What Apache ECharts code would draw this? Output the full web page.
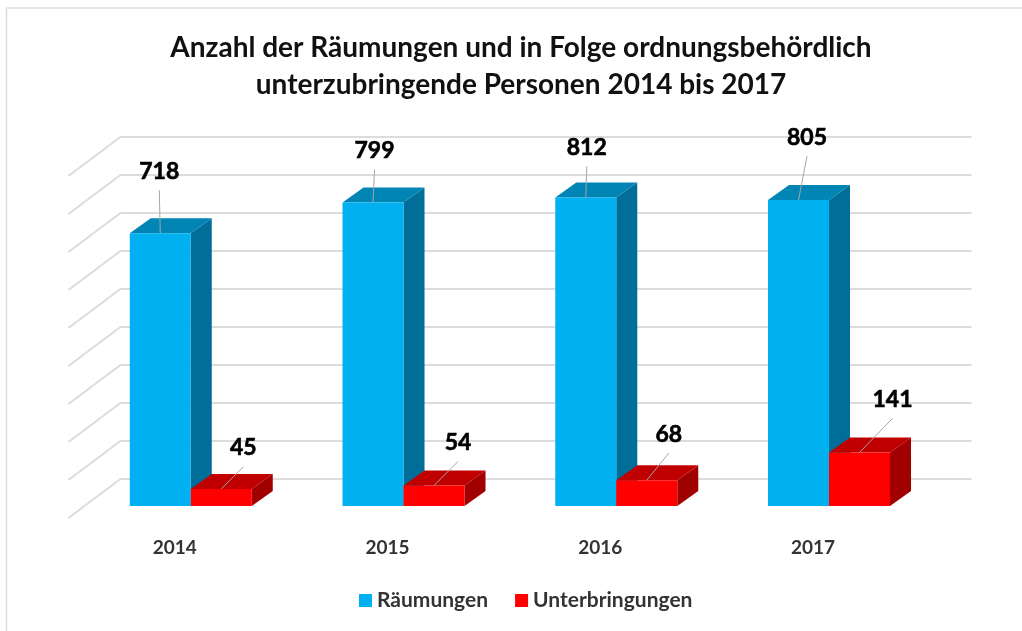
<!DOCTYPE html>
<html>
<head>
<meta charset="utf-8">
<script src="https://cdn.jsdelivr.net/npm/echarts@6/dist/echarts.min.js"></script>
<style>
  html, body { margin: 0; padding: 0; background: #fff; }
  #chart { width: 1022px; height: 631px; }
</style>
</head>
<body>
<div id="chart"></div>
<script>
const titleText = 'Anzahl der Räumungen und in Folge ordnungsbehördlich\nunterzubringende Personen 2014 bis 2017';
const years = ['2014', '2015', '2016', '2017'];
const raeumungen = [718, 799, 812, 805];
const unterbringungen = [45, 54, 68, 141];
const wallTicks = [0, 100, 200, 300, 400, 500, 600, 700, 800, 900];

// 3d look: the grid is the front edge of the floor, bars and back wall sit behind it
const BAR_W = 61;
const BAR_SHIFT = [16, -12];   // front of the bars
const BAR_DEPTH = [21, -15];
const WALL_DEPTH = [52, -39];

// label position relative to the middle of the bar's front top edge
const blueLabels = [[-1, -62], [1.5, -52], [1, -50], [8.5, -63]];
const redLabels = [[22, -41], [24, -43], [22, -46], [33, -53]];

function poly(points, color) {
  return { type: 'polygon', shape: { points }, style: { fill: color } };
}

function wallItem(params, api) {
  const p = api.coord([0, api.value(0)]);
  const left = p[0] - api.size([1, 0])[0] / 2;
  const right = left + api.size([1, 0])[0] * 4;
  const bx = left + WALL_DEPTH[0], by = p[1] + WALL_DEPTH[1];
  const lineStyle = { stroke: '#dcdcdc', lineWidth: 2, fill: null };
  return {
    type: 'group',
    children: [
      { type: 'polyline', shape: { points: [[left, p[1]], [bx, by], [right + WALL_DEPTH[0], by]] }, style: lineStyle }
    ]
  };
}

function barItem(side, colors, labelPos) {
  return function (params, api) {
    const top = api.coord([api.value(0), api.value(1)]);
    const base = api.coord([api.value(0), 0]);
    const x0 = top[0] + BAR_SHIFT[0] + (side < 0 ? -BAR_W : 0);
    const x1 = x0 + BAR_W;
    const y0 = top[1] + BAR_SHIFT[1];
    const y1 = base[1] + BAR_SHIFT[1];
    const dx = BAR_DEPTH[0], dy = BAR_DEPTH[1];
    const mid = (x0 + x1) / 2;
    const off = labelPos[params.dataIndex];
    const lx = mid + off[0], ly = y0 + off[1];
    return {
      type: 'group',
      children: [
        poly([[x1, y0], [x1 + dx, y0 + dy], [x1 + dx, y1 + dy], [x1, y1]], colors.side),
        poly([[x0, y0], [x0 + dx, y0 + dy], [x1 + dx, y0 + dy], [x1, y0]], colors.top),
        { type: 'rect', shape: { x: x0, y: y0, width: BAR_W, height: y1 - y0 }, style: { fill: colors.front } },
        { type: 'line', shape: { x1: mid, y1: y0, x2: lx, y2: ly + 19 }, style: { stroke: '#a6a6a6', lineWidth: 1 } },
        {
          type: 'text',
          style: {
            x: lx, y: ly, text: String(api.value(1)), align: 'center', verticalAlign: 'middle',
            font: 'bold 23px Lato, sans-serif', fill: '#000', stroke: '#000', lineWidth: 0.6
          }
        }
      ]
    };
  };
}

const blue = { front: '#00b0f0', top: '#0085b5', side: '#006e99' };
const red = { front: '#ff0000', top: '#c00000', side: '#a00000' };

const myChart = echarts.init(document.getElementById('chart'), null, { renderer: 'canvas' });
myChart.setOption({
  animation: false,
  backgroundColor: '#fff',
  title: {
    text: titleText,
    left: 516,
    top: 24,
    textAlign: 'center',
    textStyle: { fontFamily: 'Lato', fontWeight: 'bold', fontSize: 28, lineHeight: 37, color: '#111' }
  },
  legend: {
    data: ['Räumungen', 'Unterbringungen'],
    left: 354,
    top: 585,
    icon: 'rect',
    itemWidth: 13,
    itemHeight: 13,
    itemGap: 27,
    textStyle: { fontFamily: 'Lato', fontWeight: 'bold', fontSize: 21, color: '#333' }
  },
  grid: { left: 68.4, right: 102.6, top: 176, bottom: 113 },
  xAxis: {
    type: 'category',
    data: years,
    axisLine: { show: false },
    axisTick: { show: false },
    axisLabel: { margin: 20, fontFamily: 'Lato', fontWeight: 'bold', fontSize: 19, color: '#333' }
  },
  yAxis: {
    type: 'value',
    min: 0,
    max: 900,
    interval: 100,
    axisLine: { show: false },
    axisTick: { show: false },
    axisLabel: { show: false },
    splitLine: { show: false }
  },
  graphic: [
    { type: 'line', shape: { x1: 6.5, y1: 8, x2: 1022, y2: 8 }, style: { stroke: '#dedede', lineWidth: 1.5 } },
    { type: 'line', shape: { x1: 6.5, y1: 8, x2: 6.5, y2: 631 }, style: { stroke: '#dedede', lineWidth: 1.5 } }
  ],
  series: [
    {
      name: 'wall',
      type: 'custom',
      silent: true,
      data: wallTicks.map(v => [v]),
      encode: { y: 0 },
      renderItem: wallItem
    },
    {
      name: 'Räumungen',
      type: 'custom',
      itemStyle: { color: blue.front },
      data: raeumungen.map((v, i) => [i, v]),
      encode: { x: 0, y: 1 },
      renderItem: barItem(-1, blue, blueLabels)
    },
    {
      name: 'Unterbringungen',
      type: 'custom',
      itemStyle: { color: red.front },
      data: unterbringungen.map((v, i) => [i, v]),
      encode: { x: 0, y: 1 },
      renderItem: barItem(1, red, redLabels)
    }
  ]
});
</script>
</body>
</html>
